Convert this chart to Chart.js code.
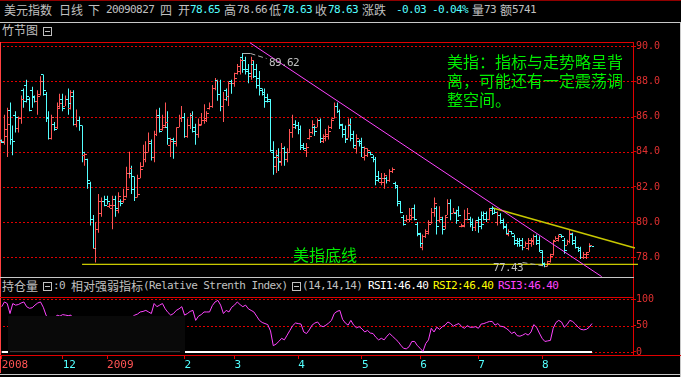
<!DOCTYPE html>
<html>
<head>
<meta charset="utf-8">
<title>美元指数 日线</title>
<script src="https://cdn.jsdelivr.net/npm/chart.js@4.4.1/dist/chart.umd.min.js"></script>
<style>
  body { margin:0; background:#000; width:681px; height:377px; position:relative; overflow:hidden; font-family:"Noto Sans CJK SC", sans-serif; }
  .t { position:absolute; white-space:nowrap; font-size:12px; line-height:14px; color:#c0c0c0; }
  .m { font-family:"DejaVu Sans Mono", monospace; font-size:11px; letter-spacing:-0.6px; }
  .c { color:#54ffff; }
  .ln { position:absolute; }
  .box { position:absolute; width:7px; height:7px; border:1px solid #c0c0c0; }
  .box:after { content:""; position:absolute; left:1px; top:3px; width:5px; height:1px; background:#c0c0c0; }
  .g { position:absolute; white-space:nowrap; color:#00ee00; font-size:16px; line-height:19px; }
  #main { position:absolute; left:0; top:36px; width:681px; height:246px; }
  #rsi { position:absolute; left:0; top:290px; width:681px; height:87px; }
</style>
</head>
<body>
<!-- frame -->
<div class="ln" style="left:0;top:0;width:681px;height:1px;background:#900000"></div>
<div class="ln" style="left:0;top:22px;width:681px;height:1px;background:#c8c8c8"></div>
<div class="ln" style="left:680px;top:22px;width:1px;height:355px;background:#c8c8c8"></div>
<div class="ln" style="left:0;top:42px;width:634px;height:1px;background:#e00000"></div>
<div class="ln" style="left:0;top:42px;width:1px;height:331px;background:#ff4040"></div>
<div class="ln" style="left:633px;top:42px;width:1px;height:313px;background:#e00000"></div>
<div class="ln" style="left:0;top:277px;width:634px;height:1px;background:#c8c8c8"></div>
<div class="ln" style="left:0;top:297px;width:634px;height:1px;background:#e00000"></div>
<div class="ln" style="left:0;top:355px;width:681px;height:1px;background:#e00000"></div>
<div class="ln" style="left:0;top:374px;width:681px;height:1px;background:#c8c8c8"></div>

<!-- title row -->
<span class="t" style="left:4px;top:3px">美元指数</span>
<span class="t" style="left:59px;top:3px">日线</span>
<span class="t" style="left:88px;top:3px">下</span>
<span class="t m" style="left:106px;top:3px">20090827</span>
<span class="t" style="left:160px;top:3px">四</span>
<span class="t" style="left:178px;top:3px">开</span><span class="t m c" style="left:190px;top:3px">78.65</span>
<span class="t" style="left:224px;top:3px">高</span><span class="t m" style="left:237px;top:3px">78.66</span>
<span class="t" style="left:269px;top:3px">低</span><span class="t m c" style="left:282px;top:3px">78.63</span>
<span class="t" style="left:315px;top:3px">收</span><span class="t m c" style="left:328px;top:3px">78.63</span>
<span class="t" style="left:362px;top:3px">涨跌</span>
<span class="t m c" style="left:396px;top:3px">-0.03</span>
<span class="t m c" style="left:432px;top:3px">-0.04%</span>
<span class="t" style="left:472px;top:3px">量</span><span class="t m" style="left:484px;top:3px">73</span>
<span class="t" style="left:500px;top:3px">额</span><span class="t m" style="left:512px;top:3px">5741</span>

<span class="t" style="left:2px;top:23px">竹节图</span>
<div class="box" style="left:43px;top:27px"></div>

<!-- RSI header -->
<span class="t" style="left:2px;top:279px">持仓量</span>
<div class="box" style="left:43px;top:282px"></div>
<span class="t m" style="left:53px;top:279px">:0</span>
<span class="t" style="left:71px;top:279px">相对强弱指标</span>
<span class="t m" style="left:143px;top:279px">(Relative Strenth Index)</span>
<div class="box" style="left:292px;top:282px"></div>
<span class="t m" style="left:302px;top:279px">(14,14,14)</span>
<span class="t m" style="left:368px;top:279px;color:#ffffff">RSI1:46.40</span>
<span class="t m" style="left:433px;top:279px;color:#ffff00">RSI2:46.40</span>
<span class="t m" style="left:498px;top:279px;color:#ff44ff">RSI3:46.40</span>

<div id="main"><canvas id="mainCanvas"></canvas></div>
<div id="rsi"><canvas id="rsiCanvas"></canvas></div>

<!-- notes on the chart -->
<span class="t m" style="left:269px;top:56px;color:#c0c0c0">89.62</span>
<span class="t m" style="left:493px;top:261px;color:#c0c0c0">77.43</span>
<span class="g" style="left:293px;top:245px">美指底线</span>
<div class="g" style="left:447px;top:52px">美指：指标与走势略呈背<br>离，可能还有一定震荡调<br>整空间。</div>

<script>
// daily bars, 2008-11 .. 2009-08-27
var opens = [84.65,84.6,84.9,86.4,84.75,86.1,85.35,85.9,87.5,87.8,
  87.0,87.5,87.2,86.9,87.3,88.4,87.3,85.9,84.8,85.6,
  85.4,86.6,87.0,86.6,87.0,86.5,87.2,85.6,85.8,85.5,
  83.8,83.6,82.2,80.2,78.5,79.6,80.5,81.2,81.3,80.9,
  80.8,81.3,80.7,81.2,81.2,81.5,82.8,82.8,82.6,81.4,
  82.5,83.2,83.6,84.0,84.5,83.7,85.0,86.1,85.3,85.5,
  85.4,84.4,84.7,84.5,85.4,85.9,86.0,84.9,85.5,86.1,
  85.4,85.0,85.6,85.8,85.8,86.5,86.6,87.6,88.1,87.3,
  86.6,87.5,87.2,88.0,87.9,88.5,88.6,89.4,89.2,88.7,
  88.3,89.0,88.7,88.2,87.5,87.4,87.1,86.9,84.0,83.2,
  83.8,83.4,84.2,83.6,84.0,85.1,85.6,85.5,85.3,84.4,
  84.1,84.8,85.1,85.4,85.4,85.8,84.6,84.8,84.9,85.4,
  85.9,86.6,86.3,85.5,85.3,84.8,85.5,85.0,84.2,84.6,
  84.6,83.7,83.8,84.0,83.7,83.6,82.6,82.3,82.3,82.5,
  82.4,82.9,82.2,82.0,81.1,80.3,80.1,80.2,80.2,80.8,
  79.9,79.3,78.6,79.2,79.4,80.0,80.6,80.8,80.1,80.2,
  79.8,80.4,81.1,80.5,80.5,80.7,79.75,79.8,80.2,80.2,
  80.0,79.7,80.1,80.2,80.4,80.5,80.2,80.8,80.8,80.0,
  80.4,80.1,79.8,79.3,79.5,79.2,79.0,78.9,79.0,78.6,
  78.5,78.8,78.9,79.2,79.0,78.3,77.7,77.5,77.8,78.2,
  79.0,79.0,79.3,79.0,78.7,78.9,79.3,79.0,78.6,78.5,
  78.0,78.0,78.3,78.65];
var highs = [84.7,86.1,86.5,86.8,85.5,86.3,86.0,87.2,87.6,88.1,
  87.1,87.7,87.2,87.5,88.3,88.4,87.4,86.3,86.1,85.7,
  86.8,87.3,87.3,87.2,87.6,87.5,87.5,86.4,86.0,85.5,
  84.0,83.6,82.3,80.4,80.0,81.6,81.4,81.5,81.5,81.1,
  81.5,81.5,81.7,81.3,81.9,83.15,84.0,83.2,82.6,82.7,
  83.4,84.4,84.6,85.1,84.7,85.2,86.4,86.5,86.1,86.8,
  86.3,84.8,84.8,85.4,86.1,86.6,86.2,85.9,86.2,86.3,
  85.6,85.9,86.2,86.7,86.3,86.8,87.8,88.2,88.1,88.1,
  87.4,87.6,88.0,88.1,88.5,89.0,89.3,89.62,89.4,89.0,
  89.4,89.2,89.0,88.6,87.6,87.6,87.3,87.0,84.6,84.1,
  84.2,84.5,84.3,84.2,85.3,86.1,85.8,85.7,85.5,84.5,
  84.5,85.3,85.8,85.5,85.9,85.9,85.0,85.3,85.5,85.9,
  86.8,86.8,86.4,85.6,85.5,85.9,85.9,85.2,85.0,84.7,
  84.8,84.3,84.2,84.0,83.8,83.7,82.9,82.8,82.8,82.6,
  83.0,83.1,82.3,82.1,81.2,80.4,80.4,80.8,80.8,81.0,
  80.0,79.4,79.3,79.6,80.1,80.8,81.4,80.9,80.9,80.3,
  80.4,81.3,81.3,80.8,80.7,80.9,79.9,80.7,80.8,80.3,
  80.2,80.1,80.3,80.6,80.6,80.6,80.8,80.9,80.8,80.6,
  80.5,80.2,79.9,79.6,79.5,79.3,79.1,79.1,79.1,78.9,
  79.1,79.1,79.3,79.3,79.2,78.4,77.7,77.8,78.2,79.0,
  79.2,79.3,79.3,79.1,79.0,79.6,79.4,79.2,78.6,78.6,
  78.3,78.3,78.8,78.66];
var lows = [84.5,84.4,83.7,84.4,83.8,85.1,85.1,85.6,86.5,86.8,
  86.3,86.5,86.8,86.1,87.2,87.2,85.7,84.7,84.7,85.2,
  85.3,86.5,86.3,86.6,86.1,86.4,85.5,85.4,85.2,83.4,
  83.2,81.9,79.8,78.5,77.7,79.4,80.3,80.9,81.0,80.8,
  79.6,80.3,80.5,80.9,81.1,81.4,82.5,81.6,81.2,81.4,
  82.5,83.15,83.4,84.0,83.5,83.4,84.9,85.1,85.2,85.4,
  84.4,83.7,83.6,84.3,85.4,85.7,84.8,84.8,85.3,85.1,
  84.4,84.8,85.5,85.6,85.7,86.4,86.5,87.5,86.9,86.3,
  85.7,86.9,86.6,87.3,87.7,88.4,88.4,88.5,88.4,87.9,
  88.1,88.2,87.6,87.2,87.2,86.5,86.8,84.0,82.7,82.8,
  82.9,83.2,83.2,83.4,84.0,84.8,85.3,85.0,84.1,84.1,
  83.7,84.7,85.0,84.9,85.4,84.5,84.5,84.6,84.7,85.3,
  85.9,86.2,85.3,84.8,84.5,84.8,84.6,84.2,83.9,84.3,
  83.7,83.5,83.7,83.8,83.4,82.1,82.3,82.1,81.9,82.2,
  82.3,82.8,81.9,80.9,80.5,79.8,80.0,80.0,80.1,80.1,
  79.2,78.6,78.4,79.1,79.3,79.9,80.3,79.3,80.0,79.3,
  79.6,80.4,80.1,80.5,79.9,80.3,79.7,79.7,80.1,79.7,
  79.5,79.5,79.4,79.6,80.1,80.0,80.1,80.4,80.5,79.8,
  79.9,79.6,79.3,79.2,79.3,78.7,78.6,78.6,78.4,78.6,
  78.4,78.6,78.7,78.7,78.3,77.5,77.43,77.5,77.7,78.1,
  79.0,78.9,79.1,78.2,78.7,78.8,78.7,78.5,78.3,77.9,
  77.9,77.9,78.3,78.63];
var closes = [84.55,85.3,85.6,84.7,84.6,86.0,85.9,87.0,86.9,87.2,
  86.4,87.1,86.9,87.2,88.0,87.5,86.0,84.8,86.0,85.3,
  86.5,86.8,86.5,87.0,86.8,87.4,85.6,85.8,85.5,84.0,
  83.9,82.4,80.2,78.5,79.6,81.2,81.2,81.0,81.2,81.0,
  81.0,80.8,81.5,81.1,81.3,81.9,83.1,81.9,81.4,81.6,
  83.0,84.0,84.0,84.6,83.7,85.0,86.0,85.2,85.4,85.7,
  84.8,84.6,84.6,85.4,85.9,86.0,84.9,85.5,86.1,85.2,
  85.0,85.5,85.8,85.9,86.2,86.6,87.6,88.1,87.3,86.6,
  87.0,87.2,87.9,87.9,88.2,88.9,89.2,88.7,88.6,88.5,
  89.2,88.3,87.8,87.6,87.3,86.9,87.0,84.1,83.7,83.7,
  83.5,84.2,84.0,84.0,85.1,85.4,85.5,85.3,84.3,84.2,
  84.3,84.9,85.6,85.2,85.8,84.8,84.9,85.0,85.2,85.8,
  86.6,86.3,85.6,85.0,84.7,85.6,84.8,84.4,84.8,84.5,
  84.3,84.2,84.1,83.9,83.6,82.4,82.5,82.5,82.7,82.4,
  82.9,83.0,82.1,81.2,80.6,79.9,80.2,80.4,80.3,80.2,
  79.4,78.8,79.2,79.5,79.9,80.6,81.1,79.8,80.3,79.6,
  80.3,81.1,80.5,80.6,80.1,80.4,79.85,80.2,80.5,79.9,
  79.7,80.0,79.8,79.9,80.2,80.2,80.7,80.5,80.6,80.4,
  80.0,79.7,79.4,79.5,79.4,78.8,78.8,78.7,78.6,78.8,
  79.0,79.0,79.2,78.8,78.4,77.6,77.5,77.7,78.1,78.9,
  79.1,79.2,79.2,78.4,78.9,79.4,78.8,78.6,78.4,78.0,
  78.2,78.2,78.7,78.63];

// RSI3 (14)
var rsi3 = [86,95,92,73,92,89,90,93,95,86,
  83,84,89,93,95,85,70,62,55,62,
  70,68,71,70,69,70,58,50,45,40,
  35,30,28,32,40,45,50,48,52,55,
  58,60,55,58,62,60,63,66,70,72,
  76,77,79,76,73,92,86,89,92,82,
  75,70,73,79,82,86,70,73,77,79,
  60,68,71,76,76,76,88,95,98,89,
  73,79,76,85,89,95,90,86,89,82,
  79,76,68,60,56,54,52,40,12,15,
  20,26,23,32,41,50,55,54,53,38,
  35,42,51,55,57,50,48,51,55,60,
  73,77,79,62,55,51,60,51,46,48,
  44,38,41,36,35,28,23,26,23,30,
  35,30,25,20,13,7,6,10,20,20,
  12,7,1,16,23,45,38,47,43,48,
  51,57,54,49,52,54,48,45,50,47,
  47,48,45,53,54,56,58,58,51,54,
  49,48,45,41,35,38,31,30,32,35,
  32,38,52,47,36,26,20,21,22,45,
  56,60,57,47,52,60,58,53,47,43,
  42,43,47,54];
// RSI1/RSI2 lie flat on zero in the picture
var rsiFlat = [[0, 0], [213, 0]];

var monthTicks = [0, 22, 38, 66, 84, 107, 130, 151, 172, 195];
var monthLabels = ['2008', '12', '2009', '2', '3', '4', '5', '6', '7', '8'];
var priceTicks = [78, 80, 82, 84, 86, 88, 90];
var rsiTicks = [0, 50, 100];

// hand drawn lines: [barIndex, price]
var downTrend = [[89.6, 90.2], [216.5, 76.9]];
var upperTrend = [[177.3, 80.8], [228.5, 78.53]];
var bottomLine = [[29, 77.6], [229.6, 77.6]];

var UP = '#ff5454', DOWN = '#54ffff';
var AXIS_RED = '#e03030';
var xMin = -0.613, xMax = 227.8;

Chart.defaults.font.family = '"DejaVu Sans Mono", monospace';
Chart.defaults.font.size = 10;

var barColors = closes.map(function (c, i) { return c >= opens[i] ? UP : DOWN; });

function pts(arr) {
  return arr.map(function (p) { return { x: p[0], y: p[1] }; });
}

var hiIdx = highs.indexOf(Math.max.apply(null, highs));
var loIdx = lows.indexOf(Math.min.apply(null, lows));

// dotted red levels: drawn as short dashes so they survive the screenshot
function dottedLevels(chart, values) {
  var ctx = chart.ctx, ys = chart.scales.y, area = chart.chartArea;
  ctx.save();
  ctx.strokeStyle = '#e00000';
  ctx.lineWidth = 1;
  ctx.setLineDash([2, 2]);
  values.forEach(function (v) {
    var y = Math.round(ys.getPixelForValue(v)) + 0.5;
    ctx.beginPath();
    ctx.moveTo(area.left + 3, y);
    ctx.lineTo(area.right, y);
    ctx.stroke();
  });
  ctx.restore();
}

var bamboo = {
  id: 'bamboo',
  beforeDatasetsDraw: function (chart) {
    dottedLevels(chart, priceTicks);
    // keep the 1px high-low lines on whole pixels
    chart.getDatasetMeta(0).data.forEach(function (el) {
      el.x = Math.round(el.x - 0.5) + 0.5;
    });
  },
  afterDatasetsDraw: function (chart) {
    var ctx = chart.ctx, ys = chart.scales.y;
    var bars = chart.getDatasetMeta(0).data;
    ctx.save();
    bars.forEach(function (el, i) {
      var xl = Math.round(el.x - 0.5);
      ctx.fillStyle = barColors[i];
      ctx.fillRect(xl - 2, Math.round(ys.getPixelForValue(opens[i])), 2, 1);
      ctx.fillRect(xl + 1, Math.round(ys.getPixelForValue(closes[i])), 2, 1);
    });
    // leader lines for the high / low notes
    ctx.strokeStyle = '#b0b0b0';
    ctx.lineWidth = 1;
    var h = bars[hiIdx], hy = Math.round(ys.getPixelForValue(highs[hiIdx])) + 0.5;
    ctx.beginPath(); ctx.moveTo(h.x, hy); ctx.lineTo(h.x + 8, hy); ctx.stroke();
    ctx.setLineDash([5, 3]);
    ctx.beginPath(); ctx.moveTo(h.x + 8, hy); ctx.lineTo(h.x + 24, hy + 5); ctx.stroke();
    var l = bars[loIdx], ly = Math.round(ys.getPixelForValue(lows[loIdx])) + 0.5;
    ctx.beginPath(); ctx.moveTo(l.x - 22, ly - 5); ctx.lineTo(l.x + 3, ly - 1); ctx.stroke();
    ctx.restore();
  }
};

var mainChart = new Chart(document.getElementById('mainCanvas'), {
  type: 'bar',
  data: {
    datasets: [
      { type: 'bar', data: highs.map(function (hv, i) { return { x: i, y: [lows[i], hv] }; }),
        backgroundColor: barColors, barThickness: 1, inflateAmount: 0, borderWidth: 0, order: 2 },
      { type: 'line', data: pts(downTrend), borderColor: '#ff44ff', borderWidth: 1, pointRadius: 0, order: 1 },
      { type: 'line', data: pts(upperTrend), borderColor: '#c8c800', borderWidth: 1.5, pointRadius: 0, clip: false, order: 1 },
      { type: 'line', data: pts(bottomLine), borderColor: '#ffff00', borderWidth: 1, pointRadius: 0, clip: false, order: 1 }
    ]
  },
  options: {
    animation: false,
    responsive: true,
    maintainAspectRatio: false,
    layout: { padding: { top: 6, bottom: 5, left: 0, right: 0 } },
    plugins: { legend: { display: false }, tooltip: { enabled: false } },
    scales: {
      x: { type: 'linear', display: false, min: xMin, max: xMax, bounds: 'data', offset: false, grid: { offset: false } },
      y: {
        position: 'right', min: 76.877, max: 90.245, bounds: 'data', beginAtZero: false,
        afterBuildTicks: function (s) { s.ticks = priceTicks.map(function (v) { return { value: v }; }); },
        afterFit: function (s) { s.width = 48; s.paddingTop = 0; s.paddingBottom = 0; },
        ticks: { color: AXIS_RED, padding: 0, callback: function (v) { return v.toFixed(1); } },
        grid: { drawOnChartArea: false, tickColor: '#e00000', tickLength: 3 },
        border: { display: false }
      }
    }
  },
  plugins: [bamboo]
});

var rsiPatch = {
  id: 'rsiPatch',
  beforeDatasetsDraw: function (chart) {
    dottedLevels(chart, rsiTicks);
  },
  afterDatasetsDraw: function (chart) {
    var ctx = chart.ctx;
    ctx.save();
    ctx.fillStyle = '#090909';
    ctx.fillRect(8, 26, 177, 37);
    ctx.fillStyle = '#3a3a3a';
    ctx.fillRect(10, 61, 170, 1);
    ctx.restore();
  }
};

var rsiChart = new Chart(document.getElementById('rsiCanvas'), {
  type: 'line',
  data: {
    datasets: [
      { data: rsi3.map(function (v, i) { return { x: i, y: v }; }), borderColor: '#ff44ff', borderWidth: 1, pointRadius: 0, tension: 0 },
      { data: pts(rsiFlat), borderColor: '#ffffff', borderWidth: 2, pointRadius: 0 }
    ]
  },
  options: {
    animation: false,
    responsive: true,
    maintainAspectRatio: false,
    layout: { padding: { top: 7, bottom: 0, left: 0, right: 0 } },
    plugins: { legend: { display: false }, tooltip: { enabled: false } },
    scales: {
      x: {
        type: 'linear', min: xMin, max: xMax, bounds: 'data', offset: false,
        afterBuildTicks: function (s) { s.ticks = monthTicks.map(function (v) { return { value: v }; }); },
        afterFit: function (s) { s.height = 22; s.paddingLeft = 0; s.paddingRight = 0; },
        ticks: {
          autoSkip: false, maxRotation: 0, align: 'start', padding: 0,
          font: { size: 11 },
          color: function (c) { return monthLabels[c.index].length === 4 ? UP : DOWN; },
          callback: function (v, i) { return monthLabels[i]; }
        },
        grid: { drawOnChartArea: false, tickLength: 4, color: '#e00000' },
        border: { display: false }
      },
      y: {
        position: 'right', min: -5.7, max: 104.4, bounds: 'data',
        afterBuildTicks: function (s) { s.ticks = rsiTicks.map(function (v) { return { value: v }; }); },
        afterFit: function (s) { s.width = 48; s.paddingTop = 0; s.paddingBottom = 0; },
        ticks: { color: AXIS_RED, padding: 0 },
        grid: { drawOnChartArea: false, tickColor: '#e00000', tickLength: 3 },
        border: { display: false }
      }
    }
  },
  plugins: [rsiPatch]
});
</script>
</body>
</html>
